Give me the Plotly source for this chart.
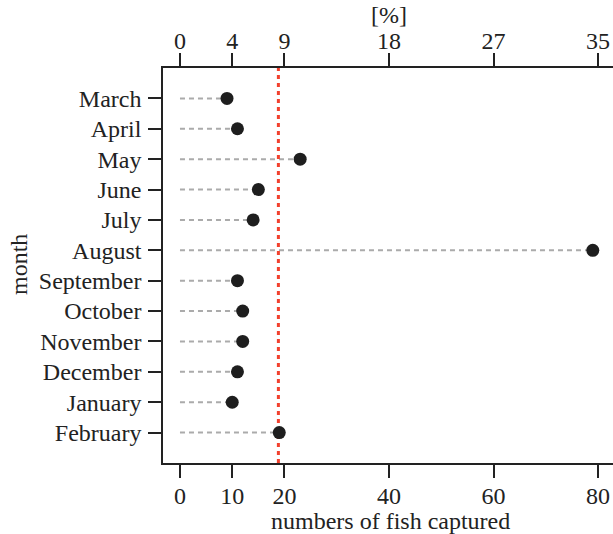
import plotly.graph_objects as go

months = ["March", "April", "May", "June", "July", "August", "September",
          "October", "November", "December", "January", "February"]
fish = [9, 11, 23, 15, 14, 79, 11, 12, 12, 11, 10, 19]
bottom_ticks = [0, 10, 20, 40, 60, 80]
top_tick_labels = ["0", "4", "9", "18", "27", "35"]

n = len(months)
ypos = [n - i for i in range(n)]  # March at top
mean_val = sum(fish) / n

FONT = "Liberation Serif"
fs = 24
W, H = 613, 534
ML, MR, MT, MB = 163, 0, 68, 71

# dashed guide lines from 0 to value
lx, ly = [], []
for v, y in zip(fish, ypos):
    lx += [0, v, None]
    ly += [y, y, None]

fig = go.Figure()
fig.add_trace(go.Scatter(x=lx, y=ly, mode="lines",
                         line=dict(color="#ababab", width=2, dash="5px,4px"),
                         hoverinfo="skip", showlegend=False))
fig.add_trace(go.Scatter(x=[mean_val, mean_val], y=[0, n + 1], mode="lines",
                         line=dict(color="#f2412e", width=3, dash="4px,4px"),
                         showlegend=False))
fig.add_trace(go.Scatter(x=fish, y=ypos, mode="markers",
                         marker=dict(color="#1e1e1e", size=13),
                         showlegend=False))
# invisible trace for top axis
fig.add_trace(go.Scatter(x=[0], y=[1], xaxis="x2", mode="markers",
                         marker=dict(opacity=0), hoverinfo="skip", showlegend=False))

xr = [-3.25, 82.87]
axis_common = dict(showgrid=False, zeroline=False, showline=True, linecolor="#222",
                   linewidth=1.5, ticks="outside", ticklen=13, tickwidth=1.5,
                   tickcolor="#222", automargin=False,
                   tickfont=dict(family=FONT, size=fs, color="#222"))

pw = W - ML - MR
ph = H - MT - MB
def px_x(p):
    return (p - ML) / pw
def px_y(p):
    return 1 - (p - MT) / ph

title_font = dict(family=FONT, size=fs, color="#222")
annotations = [
    dict(text="[%]", x=px_x(389), y=px_y(15), xref="paper", yref="paper",
         xanchor="center", yanchor="middle", showarrow=False, font=title_font),
    dict(text="numbers of fish captured", x=px_x(390), y=px_y(521),
         xref="paper", yref="paper", xanchor="center", yanchor="middle",
         showarrow=False, font=title_font),
    dict(text="month", x=px_x(19), y=px_y(265), xref="paper", yref="paper",
         xanchor="center", yanchor="middle", textangle=-90,
         showarrow=False, font=title_font),
]

fig.update_layout(
    width=W, height=H,
    margin=dict(l=ML, r=MR, t=MT, b=MB, autoexpand=False),
    paper_bgcolor="white", plot_bgcolor="white",
    font=dict(family=FONT, size=fs, color="#222"),
    xaxis=dict(range=xr, tickvals=bottom_ticks,
               ticktext=[str(t) for t in bottom_ticks],
               ticklabelstandoff=-3, **axis_common),
    xaxis2=dict(range=xr, overlaying="x", side="top", tickvals=bottom_ticks,
                ticktext=top_tick_labels, ticklabelstandoff=-5,
                **axis_common),
    yaxis=dict(range=[0, n + 1], tickvals=ypos, ticktext=months,
               ticklabelstandoff=2, **axis_common),
    annotations=annotations,
)

fig.write_html("out.html", config={"displayModeBar": False},
               post_script="document.body.style.margin='0';document.body.style.overflow='hidden';")
